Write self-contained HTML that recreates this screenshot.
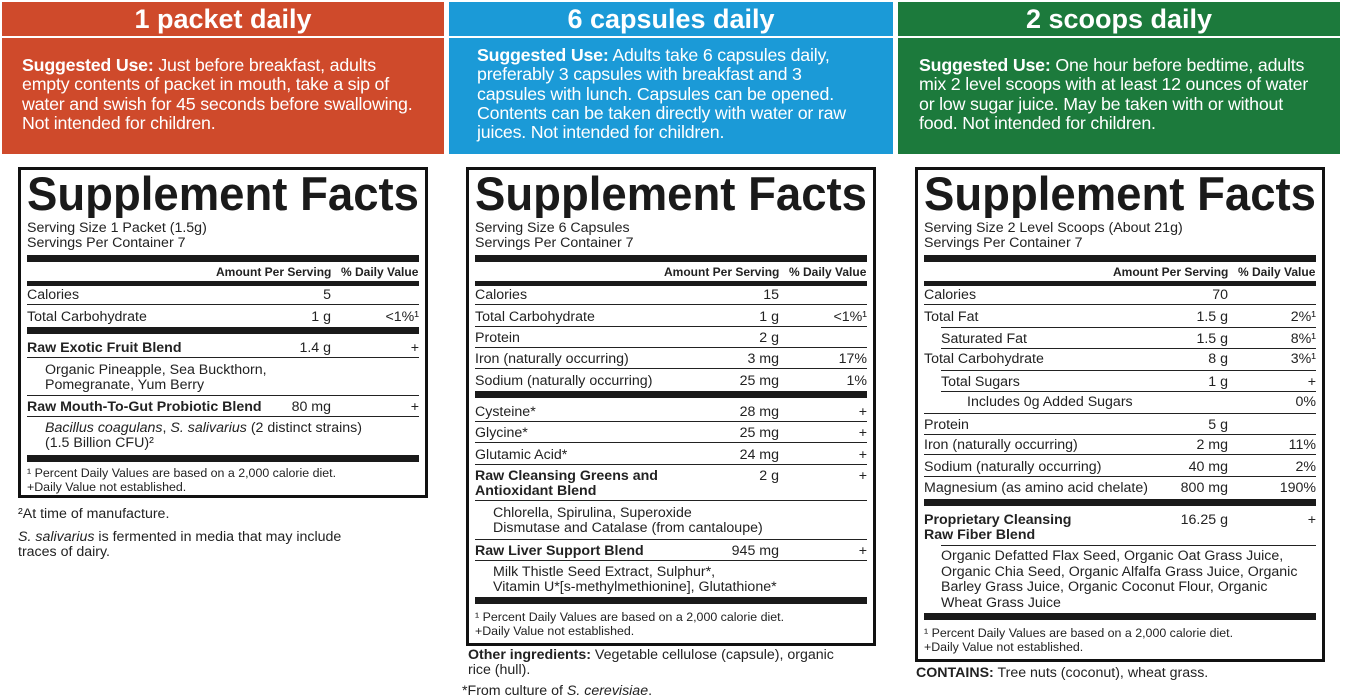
<!DOCTYPE html>
<html><head><meta charset="utf-8"><style>
body{margin:0;width:1346px;height:700px;background:#fff;position:relative;overflow:hidden;font-family:"Liberation Sans",sans-serif;color:#222}
.p{position:absolute;color:#fff}
.t{position:absolute;color:#fff;font-weight:bold;font-size:27px;text-align:center;line-height:34px}
.su{position:absolute;font-size:17.8px;line-height:19.3px;color:#fff;white-space:nowrap;letter-spacing:-0.2px}
.box{position:absolute;border:3px solid #111;box-sizing:border-box}
.r{position:absolute;height:20px;line-height:22px;border-bottom:1.5px solid #222;font-size:14.2px;white-space:nowrap}
.r .a{position:absolute;right:88px;top:0}
.r .d{position:absolute;right:0;top:0}
.b{font-weight:bold}
.bar{position:absolute;height:7px;background:#1a1a1a}
.tx{position:absolute;font-size:14.2px;line-height:15px;white-space:nowrap}
.sm{position:absolute;font-size:12.4px;line-height:14px;white-space:nowrap}
.hd{position:absolute;font-size:12px;font-weight:bold;white-space:nowrap}
svg.tt{position:absolute}
</style></head><body>
<div class="p" style="left:2px;top:2px;width:442px;height:34px;background:#cf4a2b"></div>
<div class="p" style="left:2px;top:38px;width:442px;height:116px;background:#cf4a2b"></div>
<div class="p" style="left:449px;top:2px;width:444px;height:34px;background:#1b9ad7"></div>
<div class="p" style="left:449px;top:38px;width:444px;height:116px;background:#1b9ad7"></div>
<div class="p" style="left:898px;top:2px;width:442px;height:34px;background:#1c7a3c"></div>
<div class="p" style="left:898px;top:38px;width:442px;height:116px;background:#1c7a3c"></div>
<div class="t" style="left:2px;top:2px;width:442px">1 packet daily</div>
<div class="t" style="left:449px;top:2px;width:444px">6 capsules daily</div>
<div class="t" style="left:898px;top:2px;width:442px">2 scoops daily</div>
<div class="su" style="left:22px;top:56px"><b>Suggested Use:</b> Just before breakfast, adults<br>empty contents of packet in mouth, take a sip of<br>water and swish for 45 seconds before swallowing.<br>Not intended for children.</div>
<div class="su" style="left:477px;top:46px"><b>Suggested Use:</b> Adults take 6 capsules daily,<br>preferably 3 capsules with breakfast and 3<br>capsules with lunch. Capsules can be opened.<br>Contents can be taken directly with water or raw<br>juices. Not intended for children.</div>
<div class="su" style="left:919px;top:56px"><b>Suggested Use:</b> One hour before bedtime, adults<br>mix 2 level scoops with at least 12 ounces of water<br>or low sugar juice. May be taken with or without<br>food. Not intended for children.</div>

<!-- BOX 1 -->
<div class="box" style="left:18px;top:167px;width:410px;height:331px"></div>
<svg class="tt" style="left:27px;top:170px" width="393" height="48"><text x="0" y="40" textLength="392" lengthAdjust="spacingAndGlyphs" font-family="Liberation Sans" font-weight="bold" font-size="47" fill="#1a1a1a">Supplement Facts</text></svg>
<div class="tx" style="left:27px;top:221px">Serving Size 1 Packet (1.5g)<br>Servings Per Container 7</div>
<div class="bar" style="left:27px;top:255px;width:392px"></div>
<div class="hd" style="left:216px;top:265px">Amount Per Serving</div>
<div class="hd" style="left:341px;top:265px">% Daily Value</div>
<div class="bar" style="left:27px;top:281px;width:392px;height:5px"></div>
<div class="r" style="left:27px;top:284px;width:392px">Calories<span class="a">5</span></div>
<div class="r" style="left:27px;top:306px;width:392px;border:0">Total Carbohydrate<span class="a">1 g</span><span class="d">&lt;1%¹</span></div>
<div class="bar" style="left:27px;top:327px;width:392px"></div>
<div class="r b" style="left:27px;top:337px;width:392px"><span>Raw Exotic Fruit Blend</span><span class="a" style="font-weight:normal">1.4 g</span><span class="d" style="font-weight:normal">+</span></div>
<div class="tx" style="left:45px;top:363px">Organic Pineapple, Sea Buckthorn,<br>Pomegranate, Yum Berry</div>
<div class="r" style="left:27px;top:395px;width:392px;border-top:1.5px solid #222"><b>Raw Mouth-To-Gut Probiotic Blend</b><span class="a">80 mg</span><span class="d">+</span></div>
<div class="tx" style="left:45px;top:421px"><i>Bacillus coagulans</i>, <i>S. salivarius</i> (2 distinct strains)<br>(1.5 Billion CFU)²</div>
<div class="bar" style="left:27px;top:455px;width:392px"></div>
<div class="sm" style="left:27px;top:466px">¹ Percent Daily Values are based on a 2,000 calorie diet.<br>+Daily Value not established.</div>
<div class="tx" style="left:18px;top:507px">²At time of manufacture.</div>
<div class="tx" style="left:18px;top:530px"><i>S. salivarius</i> is fermented in media that may include<br>traces of dairy.</div>

<!-- BOX 2 -->
<div class="box" style="left:466px;top:167px;width:410px;height:479px"></div>
<svg class="tt" style="left:475px;top:170px" width="393" height="48"><text x="0" y="40" textLength="392" lengthAdjust="spacingAndGlyphs" font-family="Liberation Sans" font-weight="bold" font-size="47" fill="#1a1a1a">Supplement Facts</text></svg>
<div class="tx" style="left:475px;top:221px">Serving Size 6 Capsules<br>Servings Per Container 7</div>
<div class="bar" style="left:475px;top:255px;width:392px"></div>
<div class="hd" style="left:664px;top:265px">Amount Per Serving</div>
<div class="hd" style="left:789px;top:265px">% Daily Value</div>
<div class="bar" style="left:475px;top:281px;width:392px;height:5px"></div>
<div class="r" style="left:475px;top:284px;width:392px">Calories<span class="a">15</span></div>
<div class="r" style="left:475px;top:306px;width:392px">Total Carbohydrate<span class="a">1 g</span><span class="d">&lt;1%¹</span></div>
<div class="r" style="left:475px;top:327px;width:392px">Protein<span class="a">2 g</span></div>
<div class="r" style="left:475px;top:348px;width:392px">Iron (naturally occurring)<span class="a">3 mg</span><span class="d">17%</span></div>
<div class="r" style="left:475px;top:370px;width:392px;border:0">Sodium (naturally occurring)<span class="a">25 mg</span><span class="d">1%</span></div>
<div class="bar" style="left:475px;top:391px;width:392px"></div>
<div class="r" style="left:475px;top:401px;width:392px">Cysteine*<span class="a">28 mg</span><span class="d">+</span></div>
<div class="r" style="left:475px;top:422px;width:392px">Glycine*<span class="a">25 mg</span><span class="d">+</span></div>
<div class="r" style="left:475px;top:444px;width:392px">Glutamic Acid*<span class="a">24 mg</span><span class="d">+</span></div>
<div class="tx b" style="left:475px;top:469px">Raw Cleansing Greens and<br>Antioxidant Blend</div>
<div class="tx" style="left:475px;top:469px;width:392px"><span style="position:absolute;right:88px">2 g</span><span style="position:absolute;right:0">+</span></div>
<div style="position:absolute;left:475px;top:500px;width:392px;border-top:1.5px solid #222"></div>
<div class="tx" style="left:493px;top:506px">Chlorella, Spirulina, Superoxide<br>Dismutase and Catalase (from cantaloupe)</div>
<div class="r" style="left:475px;top:539px;width:392px;border-top:1.5px solid #222"><b>Raw Liver Support Blend</b><span class="a">945 mg</span><span class="d">+</span></div>
<div class="tx" style="left:493px;top:565px">Milk Thistle Seed Extract, Sulphur*,<br>Vitamin U*[s-methylmethionine], Glutathione*</div>
<div class="bar" style="left:475px;top:597px;width:392px"></div>
<div class="sm" style="left:475px;top:610px">¹ Percent Daily Values are based on a 2,000 calorie diet.<br>+Daily Value not established.</div>
<div class="tx" style="left:468px;top:648px"><b>Other ingredients:</b> Vegetable cellulose (capsule), organic<br>rice (hull).</div>
<div class="tx" style="left:462px;top:684px">*From culture of <i>S. cerevisiae</i>.</div>

<!-- BOX 3 -->
<div class="box" style="left:915px;top:167px;width:410px;height:495px"></div>
<svg class="tt" style="left:924px;top:170px" width="393" height="48"><text x="0" y="40" textLength="392" lengthAdjust="spacingAndGlyphs" font-family="Liberation Sans" font-weight="bold" font-size="47" fill="#1a1a1a">Supplement Facts</text></svg>
<div class="tx" style="left:924px;top:221px">Serving Size 2 Level Scoops (About 21g)<br>Servings Per Container 7</div>
<div class="bar" style="left:924px;top:255px;width:392px"></div>
<div class="hd" style="left:1113px;top:265px">Amount Per Serving</div>
<div class="hd" style="left:1238px;top:265px">% Daily Value</div>
<div class="bar" style="left:924px;top:281px;width:392px;height:5px"></div>
<div class="r" style="left:924px;top:284px;width:392px">Calories<span class="a">70</span></div>
<div class="r" style="left:924px;top:306px;width:392px;border:0">Total Fat<span class="a">1.5 g</span><span class="d">2%¹</span></div>
<div class="r" style="left:941px;top:327px;width:375px;border-top:1.5px solid #222">Saturated Fat<span class="a">1.5 g</span><span class="d">8%¹</span></div>
<div class="r" style="left:924px;top:348px;width:392px;border:0">Total Carbohydrate<span class="a">8 g</span><span class="d">3%¹</span></div>
<div class="r" style="left:941px;top:370px;width:375px;border-top:1.5px solid #222">Total Sugars<span class="a">1 g</span><span class="d">+</span></div>
<div class="r" style="left:967px;top:391px;width:349px;border:0">Includes 0g Added Sugars<span class="d">0%</span></div>
<div class="r" style="left:924px;top:413px;width:392px;border-top:1.5px solid #222">Protein<span class="a">5 g</span></div>
<div class="r" style="left:924px;top:434px;width:392px">Iron (naturally occurring)<span class="a">2 mg</span><span class="d">11%</span></div>
<div class="r" style="left:924px;top:456px;width:392px">Sodium (naturally occurring)<span class="a">40 mg</span><span class="d">2%</span></div>
<div class="r" style="left:924px;top:477px;width:392px;border:0">Magnesium (as amino acid chelate)<span class="a">800 mg</span><span class="d">190%</span></div>
<div class="bar" style="left:924px;top:499px;width:392px"></div>
<div class="tx b" style="left:924px;top:513px">Proprietary Cleansing<br>Raw Fiber Blend</div>
<div class="tx" style="left:924px;top:513px;width:392px"><span style="position:absolute;right:88px">16.25 g</span><span style="position:absolute;right:0">+</span></div>
<div style="position:absolute;left:941px;top:545px;width:375px;border-top:1.5px solid #222"></div>
<div class="tx" style="left:941px;top:549px;line-height:15.6px">Organic Defatted Flax Seed, Organic Oat Grass Juice,<br>Organic Chia Seed, Organic Alfalfa Grass Juice, Organic<br>Barley Grass Juice, Organic Coconut Flour, Organic<br>Wheat Grass Juice</div>
<div class="bar" style="left:924px;top:613px;width:392px"></div>
<div class="sm" style="left:924px;top:626px">¹ Percent Daily Values are based on a 2,000 calorie diet.<br>+Daily Value not established.</div>
<div class="tx" style="left:916px;top:666px"><b>CONTAINS:</b> Tree nuts (coconut), wheat grass.</div>
</body></html>
